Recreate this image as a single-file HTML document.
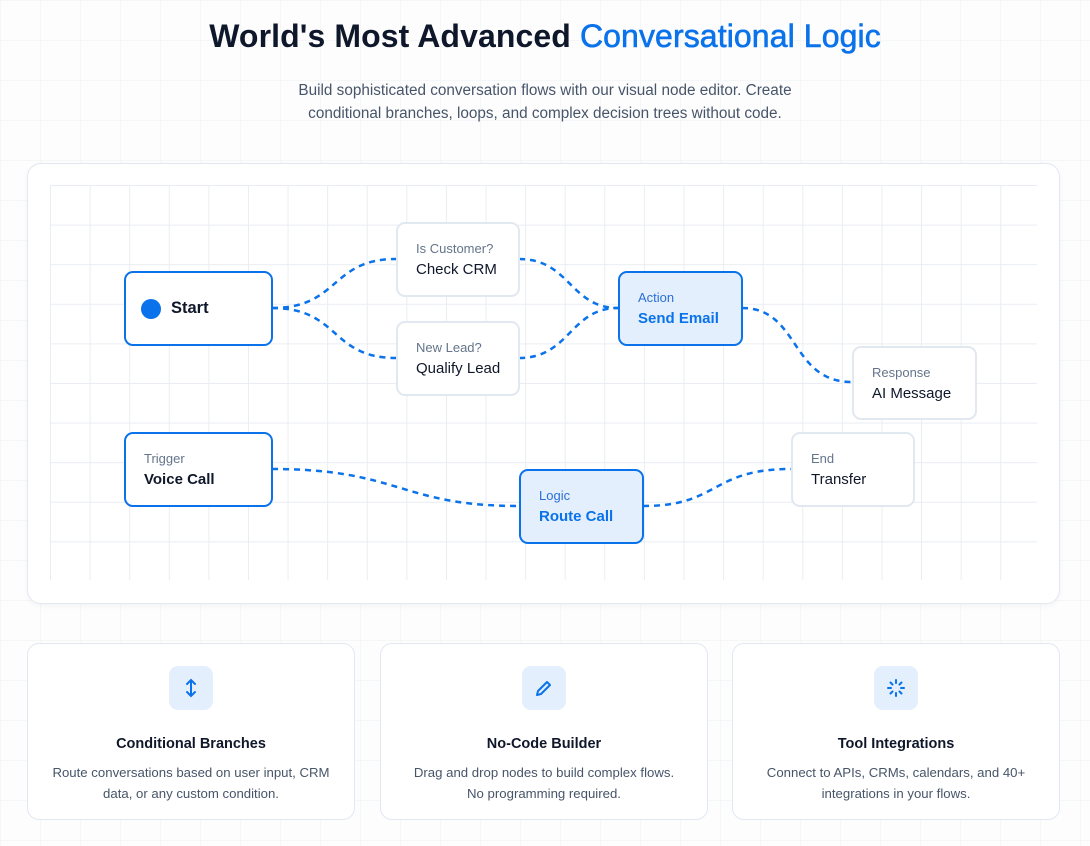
<!DOCTYPE html>
<html><head><meta charset="utf-8"><style>
*{margin:0;padding:0;box-sizing:border-box}
body{width:1090px;height:846px;overflow:hidden;font-family:"Liberation Sans",sans-serif;background:#fdfdfe;
background-image:linear-gradient(#f5f6f8 1px,transparent 1px),linear-gradient(90deg,#f5f6f8 1px,transparent 1px);background-size:40px 40px;position:relative}
h1{position:absolute;top:18px;left:0;width:1090px;text-align:center;font-size:32px;font-weight:bold;color:#0f172a;letter-spacing:0.1px}
h1 span{color:#0a72ea;font-weight:normal;-webkit-text-stroke:0.6px #0a72ea}
.sub{position:absolute;top:79px;left:0;width:1090px;text-align:center;font-size:15.3px;line-height:23px;color:#475569}
.canvas{position:absolute;left:27px;top:163px;width:1033px;height:441px;background:#fff;border:1px solid #e2e8f0;border-radius:14px;box-shadow:0 2px 6px rgba(0,0,0,0.04)}
.grid{position:absolute;left:50px;top:185px;width:987px;height:395px;
background-image:linear-gradient(#e9edf3 1px,transparent 1px),linear-gradient(90deg,#e9edf3 1px,transparent 1px);background-size:39.6px 39.6px}
.node{position:absolute;background:#fff;border:2px solid #e2e8f0;border-radius:9px;padding:0 0 0 18px;display:flex;flex-direction:column;justify-content:center}
.node.b{border-color:#0a72ea}
.node.l{background:#e4effd}
.node .t{font-size:13px;color:#64748b;line-height:20px}
.node .m{font-size:15px;color:#0f172a;line-height:21px}
.node.l .t{color:#2b6fd6}.node.l .m{color:#0a72ea;font-weight:bold}
svg{position:absolute;left:0;top:0}
.card{position:absolute;top:643px;width:328px;height:177px;background:#fff;border:1px solid #e2e8f0;border-radius:12px;text-align:center}
.ic{width:44px;height:44px;border-radius:9px;background:#e4effd;margin:22px auto 0;display:flex;align-items:center;justify-content:center}
.card h3{font-size:14.5px;color:#0f172a;margin-top:26px}
.card p{font-size:13.2px;color:#475569;line-height:21px;margin-top:10px;padding:0 12px}
</style></head><body>
<h1>World's Most Advanced <span>Conversational Logic</span></h1>
<div class="sub">Build sophisticated conversation flows with our visual node editor. Create<br>conditional branches, loops, and complex decision trees without code.</div>
<div class="canvas"></div>
<div class="grid"></div>
<svg width="1090" height="846"><g fill="none" stroke="#0a72ea" stroke-width="2.5" stroke-dasharray="6 5">
<path d="M272 308 C340 308 330 259 396 259"/>
<path d="M272 308 C340 308 330 358 396 358"/>
<path d="M519 259 C570 259 570 308 618 308"/>
<path d="M519 358 C570 358 570 308 618 308"/>
<path d="M742 308 C800 308 790 382 852 382"/>
<path d="M272 469 C400 469 400 506 519 506"/>
<path d="M643 506 C720 506 710 469 791 469"/>
</g></svg>
<div class="node b" style="left:124px;top:271px;width:149px;height:75px;flex-direction:row;align-items:center;justify-content:flex-start;padding-left:15px"><div style="width:20px;height:20px;border-radius:50%;background:#0a72ea"></div><div style="margin-left:10px;font-size:16.5px;font-weight:bold;color:#0f172a">Start</div></div>
<div class="node" style="left:396px;top:222px;width:124px;height:75px"><div class="t">Is Customer?</div><div class="m">Check CRM</div></div>
<div class="node" style="left:396px;top:321px;width:124px;height:75px"><div class="t">New Lead?</div><div class="m">Qualify Lead</div></div>
<div class="node b l" style="left:618px;top:271px;width:125px;height:75px"><div class="t">Action</div><div class="m">Send Email</div></div>
<div class="node" style="left:852px;top:346px;width:125px;height:74px"><div class="t">Response</div><div class="m">AI Message</div></div>
<div class="node b" style="left:124px;top:432px;width:149px;height:75px"><div class="t">Trigger</div><div class="m" style="font-weight:bold">Voice Call</div></div>
<div class="node b l" style="left:519px;top:469px;width:125px;height:75px"><div class="t">Logic</div><div class="m">Route Call</div></div>
<div class="node" style="left:791px;top:432px;width:124px;height:75px"><div class="t">End</div><div class="m">Transfer</div></div>

<div class="card" style="left:27px"><div class="ic"><svg style="position:static" width="20" height="20" viewBox="0 0 20 20" fill="none" stroke="#0a72ea" stroke-width="2" stroke-linecap="round"><path d="M10 2v16M6 6l4-4 4 4M6 14l4 4 4-4"/></svg></div><h3>Conditional Branches</h3><p>Route conversations based on user input, CRM data, or any custom condition.</p></div>
<div class="card" style="left:380px"><div class="ic"><svg style="position:static" width="20" height="20" viewBox="0 0 20 20" fill="none" stroke="#0a72ea" stroke-width="2" stroke-linejoin="round"><path d="M3 17l1-4L13 4l3 3-9 9z"/></svg></div><h3>No-Code Builder</h3><p>Drag and drop nodes to build complex flows.<br>No programming required.</p></div>
<div class="card" style="left:732px"><div class="ic"><svg style="position:static" width="20" height="20" viewBox="0 0 20 20" fill="none" stroke="#0a72ea" stroke-width="2" stroke-linecap="round"><path d="M10 2v3M10 15v3M2 10h3M15 10h3M4.5 4.5l2 2M13.5 13.5l2 2M4.5 15.5l2-2M13.5 6.5l2-2"/></svg></div><h3>Tool Integrations</h3><p>Connect to APIs, CRMs, calendars, and 40+<br>integrations in your flows.</p></div>
</body></html>
